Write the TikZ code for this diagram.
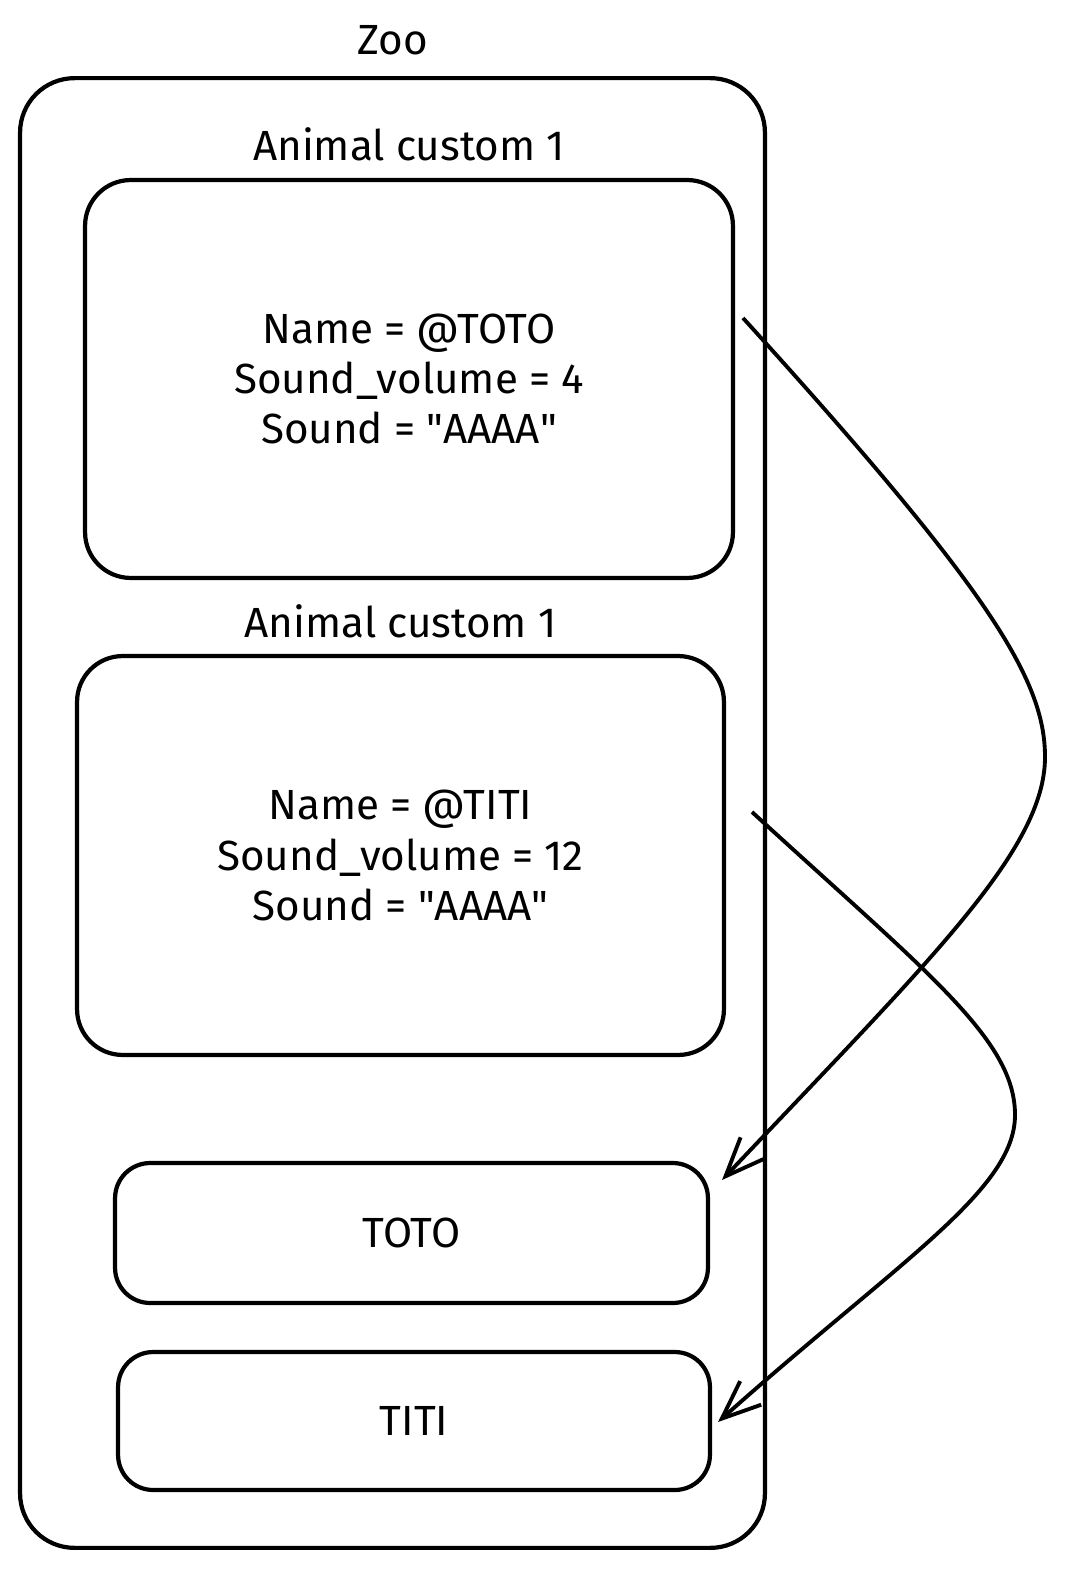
\documentclass[tikz,border=0pt]{standalone}
\usepackage{fontspec}
\setmainfont{Fira Sans}
\usetikzlibrary{positioning,arrows.meta}

\begin{document}
\begin{tikzpicture}[x=0.02cm,y=-0.02cm,
  box/.style={draw,line width=2.4pt,rounded corners=26pt,inner sep=0pt},
  txt/.style={font=\fontsize{24}{28.5}\selectfont,align=center,inner sep=0pt},
  link/.style={line width=2.2pt,-{Straight Barb[length=22pt,width=18pt]}}]
  \useasboundingbox (0,0) rectangle (1069,1574);
  % Zoo frame
  \node[box,rounded corners=31pt,minimum width=14.9cm,minimum height=29.4cm] (zoo) at (392.5,813) {};
  \node[txt,above=0.42cm of zoo] (zoolbl) {Zoo};
  % animals
  \node[box,txt,minimum width=12.96cm,minimum height=7.96cm] (card1) at (409,379)
    {Name = @TOTO\\Sound\_volume = 4\\Sound = \textquotedbl AAAA\textquotedbl};
  \node[txt,above=0.34cm of card1] (lbl1) {Animal custom 1};
  \node[box,txt,minimum width=12.94cm,minimum height=7.98cm] (card2) at (400.5,855.5)
    {Name = @TITI\\Sound\_volume = 12\\Sound = \textquotedbl AAAA\textquotedbl};
  \node[txt,above=0.32cm of card2] (lbl2) {Animal custom 1};
  % names
  \node[box,txt,rounded corners=20pt,minimum width=11.86cm,minimum height=2.8cm] (toto) at (411.5,1233) {TOTO};
  \node[box,txt,rounded corners=20pt,minimum width=11.84cm,minimum height=2.76cm] (titi) at (414,1421) {TITI};
  \coordinate (s1) at (743,318);
  \coordinate (s2) at (752,812);
  \coordinate (e1) at (722,1180);
  \coordinate (e2) at (718,1422);
  \draw[link] (s1) .. controls (990,590) and (1045,680) .. (1045,757)
    .. controls (1045,850) and (930,960) .. (e1);
  \draw[link] (s2) .. controls (930,975) and (1015,1040) .. (1015,1115)
    .. controls (1015,1190) and (900,1260) .. (e2);
\end{tikzpicture}
\end{document}
